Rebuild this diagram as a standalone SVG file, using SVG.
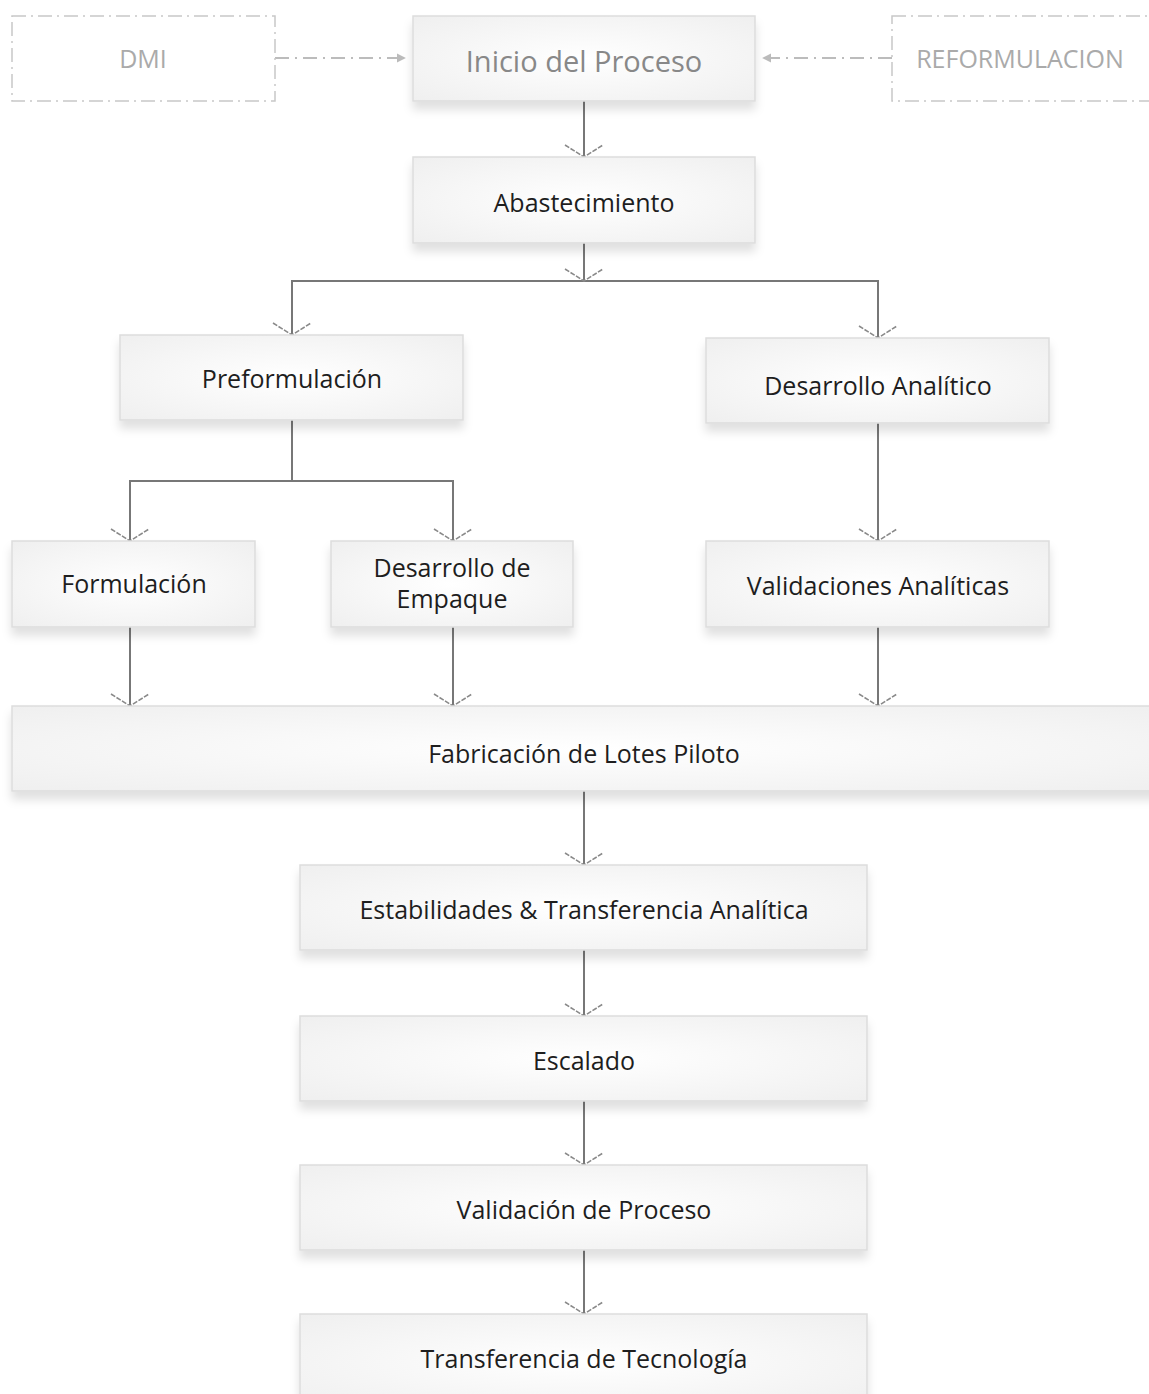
<svg xmlns="http://www.w3.org/2000/svg" width="1149" height="1394" viewBox="0 0 1149 1394">
<defs>
<radialGradient id="g" cx="0.5" cy="0.5" r="0.75">
<stop offset="0" stop-color="#ffffff"/>
<stop offset="1" stop-color="#eeeeee"/>
</radialGradient>
<filter id="sh" x="-5%" y="-10%" width="110%" height="140%">
<feDropShadow dx="0" dy="8" stdDeviation="5" flood-color="#000" flood-opacity="0.12"/>
</filter>
<marker id="tri" viewBox="0 0 10 10" refX="9" refY="5" markerWidth="9" markerHeight="12" markerUnits="userSpaceOnUse" orient="auto">
<path d="M0,0 L10,5 L0,10 z" fill="#bbbbbb"/>
</marker>
</defs>
<style>
.box{fill:url(#g);stroke:#dddddd;stroke-width:1.5;filter:url(#sh)}
.ghost{fill:#ffffff;stroke:#c8c8c8;stroke-width:1.5;stroke-dasharray:14 5 2 5}
.t{font-family:"Open Sans","Liberation Sans",sans-serif;font-size:25px;fill:#1e1e1e;text-anchor:middle;dominant-baseline:central}
.tg{font-family:"Open Sans","Liberation Sans",sans-serif;font-size:25px;fill:#aaaaaa;text-anchor:middle;dominant-baseline:central}
.ti{font-family:"Open Sans","Liberation Sans",sans-serif;font-size:29px;fill:#888888;text-anchor:middle;dominant-baseline:central}
.ln{fill:none;stroke:#777777;stroke-width:2}
.ah{fill:none;stroke:#8a8a8a;stroke-width:1.6;stroke-dasharray:5 1.5}
.dd{fill:none;stroke:#bcbcbc;stroke-width:2;stroke-dasharray:14 6 2 6}
</style>
<rect width="1149" height="1394" fill="#ffffff"/>
<g id="connectors">
<path class="dd" d="M275,58 H405" marker-end="url(#tri)"/>
<path class="dd" d="M892,58 H763" marker-end="url(#tri)"/>
<path class="ln" d="M584,101 V157"/>
<path class="ln" d="M584,243 V281"/>
<path class="ln" d="M292,335 V281 H878 V338"/>
<path class="ln" d="M292,420 V481"/>
<path class="ln" d="M130,541 V481 H453 V541"/>
<path class="ln" d="M878,423 V541"/>
<path class="ln" d="M130,627 V706"/>
<path class="ln" d="M453,627 V706"/>
<path class="ln" d="M878,627 V706"/>
<path class="ln" d="M584,791 V865"/>
<path class="ln" d="M584,950 V1016"/>
<path class="ln" d="M584,1101 V1165"/>
<path class="ln" d="M584,1250 V1314"/>
<g class="ah">
<path d="M565,145 L584,157 L603,145"/>
<path d="M565,269 L584,281 L603,269"/>
<path d="M273,323 L292,335 L311,323"/>
<path d="M859,326 L878,338 L897,326"/>
<path d="M111,529 L130,541 L149,529"/>
<path d="M434,529 L453,541 L472,529"/>
<path d="M859,529 L878,541 L897,529"/>
<path d="M111,694 L130,706 L149,694"/>
<path d="M434,694 L453,706 L472,694"/>
<path d="M859,694 L878,706 L897,694"/>
<path d="M565,853 L584,865 L603,853"/>
<path d="M565,1004 L584,1016 L603,1004"/>
<path d="M565,1153 L584,1165 L603,1153"/>
<path d="M565,1302 L584,1314 L603,1302"/>
</g>
</g>
<g id="dmi"><rect class="ghost" x="12" y="16" width="263" height="85"/><text class="tg" x="143" y="58">DMI</text></g>
<g id="reformulacion"><rect class="ghost" x="892" y="16" width="270" height="85"/><text class="tg" x="1020" y="58">REFORMULACION</text></g>
<g id="inicio"><rect class="box" x="413" y="16" width="342" height="85"/><text class="ti" x="584" y="60">Inicio del Proceso</text></g>
<g id="abastecimiento"><rect class="box" x="413" y="157" width="342" height="86"/><text class="t" x="584" y="202">Abastecimiento</text></g>
<g id="preformulacion"><rect class="box" x="120" y="335" width="343" height="85"/><text class="t" x="292" y="378">Preformulación</text></g>
<g id="desarrollo-analitico"><rect class="box" x="706" y="338" width="343" height="85"/><text class="t" x="878" y="385">Desarrollo Analítico</text></g>
<g id="formulacion"><rect class="box" x="12" y="541" width="243" height="86"/><text class="t" x="134" y="583">Formulación</text></g>
<g id="desarrollo-empaque"><rect class="box" x="331" y="541" width="242" height="86"/><text class="t" x="452" y="567">Desarrollo de</text><text class="t" x="452" y="598">Empaque</text></g>
<g id="validaciones-analiticas"><rect class="box" x="706" y="541" width="343" height="86"/><text class="t" x="878" y="585">Validaciones Analíticas</text></g>
<g id="fabricacion"><rect class="box" x="12" y="706" width="1150" height="85"/><text class="t" x="584" y="753">Fabricación de Lotes Piloto</text></g>
<g id="estabilidades"><rect class="box" x="300" y="865" width="567" height="85"/><text class="t" x="584" y="909">Estabilidades &amp; Transferencia Analítica</text></g>
<g id="escalado"><rect class="box" x="300" y="1016" width="567" height="85"/><text class="t" x="584" y="1060">Escalado</text></g>
<g id="validacion-proceso"><rect class="box" x="300" y="1165" width="567" height="85"/><text class="t" x="584" y="1209">Validación de Proceso</text></g>
<g id="transferencia"><rect class="box" x="300" y="1314" width="567" height="95"/><text class="t" x="584" y="1358">Transferencia de Tecnología</text></g>
</svg>
